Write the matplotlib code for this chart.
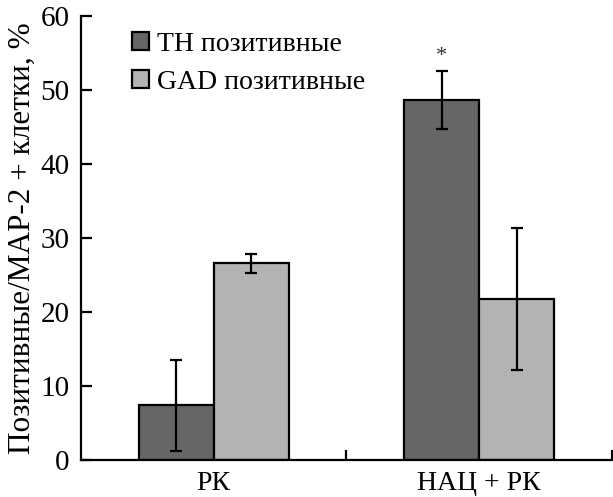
import numpy as np
import matplotlib.pyplot as plt

categories = ["РК", "НАЦ + РК"]
th_values = [7.4, 48.6]
th_errors = [6.1, 3.9]
gad_values = [26.6, 21.8]
gad_errors = [1.3, 9.6]
series_labels = ["TH позитивные", "GAD позитивные"]
y_ticks = [0, 10, 20, 30, 40, 50, 60]

plt.rcParams['font.family'] = ['Liberation Serif', 'DejaVu Serif']
plt.rcParams['font.size'] = 20

fig = plt.figure(figsize=(6.13, 4.97), dpi=100)
ax = fig.add_axes([0.132, 0.074, 0.866, 0.894])

x = np.arange(len(categories))
w = 0.283
err_kw = dict(ecolor='black', elinewidth=1.6, capsize=4.5, capthick=1.6)
ax.bar(x - w / 2, th_values, w, yerr=th_errors, color='#666666',
       edgecolor='black', linewidth=1.6, label=series_labels[0], error_kw=err_kw)
ax.bar(x + w / 2, gad_values, w, yerr=gad_errors, color='#b3b3b3',
       edgecolor='black', linewidth=1.6, label=series_labels[1], error_kw=err_kw)

# significance mark
ax.text(x[1] - w / 2, th_values[1] + th_errors[1] + 0.8, "*",
        ha='center', va='bottom', fontsize=16, color='#333333')

ax.set_xlim(-0.5, 1.5)
ax.set_ylim(0, 60)
ax.set_yticks(y_ticks)
ax.set_xticks(x)
ax.set_xticklabels(categories)
ax.set_xticks([0.5, 1.5], minor=True)
ax.tick_params(axis='x', which='major', length=0, pad=8, labelsize=20)
ax.tick_params(axis='x', which='minor', direction='in', length=7, width=1.6)
ax.tick_params(axis='y', direction='in', length=8, width=1.6, pad=8, labelsize=21)

for s in ['top', 'right']:
    ax.spines[s].set_visible(False)
for s in ['left', 'bottom']:
    ax.spines[s].set_linewidth(1.6)

ax.set_ylabel("Позитивные/MAP-2 + клетки, %", fontsize=22.5, labelpad=3)

ax.legend(loc='upper left', bbox_to_anchor=(0.05, 1.02), frameon=False,
          handlelength=0.6, handleheight=0.6, handletextpad=0.3,
          labelspacing=0.45, fontsize=20)

fig.savefig("out.png", dpi=100)
